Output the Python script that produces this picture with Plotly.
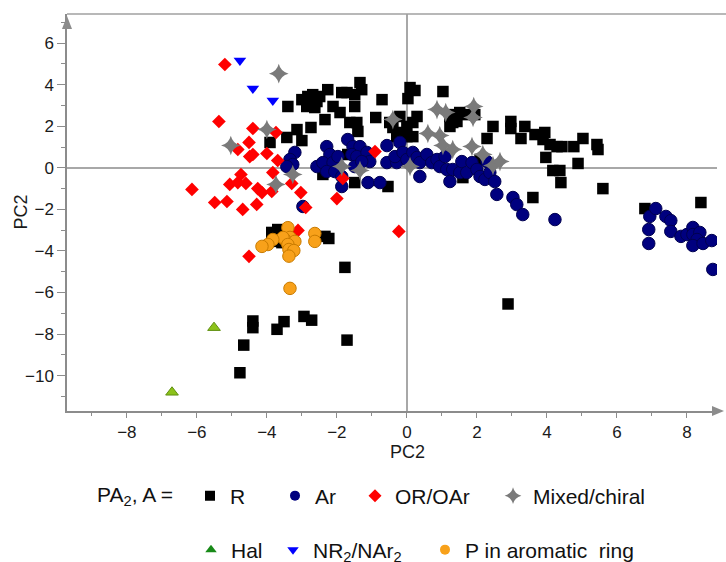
import plotly.graph_objects as go

# ---------------- data (PC1 / PC2 scores) ----------------
r_x = [-3.91, -3.43, -3.14, -3.0, -2.74, -3.4, -3.0, -2.83, -2.69, -2.57, -2.86, -2.63, -2.49, -2.26,
       -2.34, -2.11, -1.91, -1.86, -1.71, -1.49, -1.34, -1.29, -1.49, -1.63, -1.43, -1.4, -0.89, -0.71,
       -0.49, -0.2, -0.4, -0.2, 0.0, 0.17, 0.29, 0.17, 0.0, -0.29, 0.09, 0.23, 0.03, 1.03,
       1.23, 1.37, 1.51, 1.23, 1.31, 1.66, 1.94, 1.43, 2.09, 1.6,
       2.46, 2.29, 2.97, 2.97, 3.37, 3.26, 3.66, 3.94, 3.89, 4.09, 4.29, 4.43, 4.77, 5.03, 5.43, 5.46,
       3.97, 4.17, 4.37, 4.4, 4.89, 5.6, 3.6, 6.8, 8.4, 2.89,
       -1.49, -0.54, -2.4, -1.69,
       -3.86, -3.69, -3.83, -3.57, -3.63, -2.34, -2.23, -1.77,
       -4.4, -4.4, -4.66, -4.77, -3.71, -3.51, -2.94, -2.72, -1.71]
r_y = [1.22, 1.46, 1.84, 1.31, 1.94, 2.95, 3.28, 3.43, 3.52, 3.19, 2.95, 2.9, 3.43, 3.76,
       2.32, 2.95, 2.66, 3.62, 3.62, 3.52, 4.1, 3.76, 2.95, 2.18, 2.18, 1.75, 2.42, 3.28,
       2.18, 2.47, 1.94, 1.7, 1.99, 2.18, 2.47, 1.5, 1.5, 1.5, 3.86, 3.72, 3.33, 3.67,
       2.47, 2.56, 2.66, 1.99, 2.18, 2.56, 2.56, 2.23, 0.4, -0.47,
       1.99, 1.41, 2.23, 1.89, 1.99, 1.41, 1.6, 1.7, 1.36, 1.12, 1.02, 1.02, 1.02, 1.41, 1.12, 0.88,
       0.5, -0.13, -0.13, -0.71, 0.21, -1.0, -1.43, -1.96, -1.67, -6.55,
       -0.71, -0.9, -0.32, 0.64,
       -3.11, -2.97, -3.54, -3.6, -3.35, -3.3, -3.4, -4.79,
       -7.37, -7.69, -8.53, -9.86, -7.77, -7.4, -7.15, -7.33, -8.29]

ar_x = [-3.2, -3.34, -3.26, -3.43, -2.57, -2.29, -2.2, -2.4, -2.11, -1.97, -2.29, -2.06, -1.86, -1.86,
        -1.69, -1.54, -1.34, -1.57, -1.43, -1.14, -1.06, -1.49, -1.29, -1.11, -0.77, -0.57, -0.2,
        -0.57, -0.29, -0.34, -0.11, 0.0, 0.17, 0.29, 0.37, 0.57, 0.71, 0.37, 0.86, 0.94, 1.14, 1.09,
        1.23, 1.31, 1.51, 1.57, 1.71, 1.86, 2.0, 2.09, 2.23, 2.29, 2.37, 2.51, 2.57, 3.03, 3.14, 3.31,
        4.23, -2.97,
        6.94, 7.11, 6.91, 6.91, 7.4, 7.54, 7.54, 7.83, 8.0, 8.17, 8.17, 8.37, 8.29, 8.17, 8.46, 8.71, 8.74]
ar_y = [0.74, 0.4, 0.16, 0.06, 0.06, 1.02, 0.64, 0.25, 0.25, 0.54, -0.18, -0.18, -0.42, -0.9,
        1.36, 1.02, 1.02, 0.64, 0.54, 0.74, 0.3, 0.06, 0.3, -0.71, -0.71, 1.07, 1.22,
        0.25, 0.25, 0.54, 0.74, 0.4, 0.74, 0.5, 0.25, 0.64, 0.25, -0.42, 0.4, 0.06, -0.08, 0.54,
        -0.66, -0.08, -0.23, 0.3, -0.23, 0.25, -0.08, -0.42, -0.56, 0.3, -0.23, -0.66, -1.28, -1.43, -1.77, -2.25,
        -2.49, -1.86,
        -2.34, -1.96, -2.97, -3.64, -2.34, -2.54, -3.06, -3.3, -3.21, -2.87, -3.21, -3.11, -3.45, -3.74, -3.64, -3.5, -4.89]

or_x = [-5.2, -5.37, -4.4, -3.74, -4.51, -4.83, -4.49, -4.4, -4.0, -3.69, -4.74, -3.83, -5.06, -4.83,
        -4.6, -4.26, -4.14, -3.86, -3.29, -3.03, -6.14, -5.49, -5.14, -4.69, -4.29, -2.89, -2.0, -1.83,
        -0.91, -3.11, -4.51, -0.23]
or_y = [4.97, 2.23, 1.89, 1.7, 1.22, 0.88, 0.54, 0.64, 0.69, 0.35, -0.32, -0.23, -0.8, -0.71,
        -0.75, -1.0, -1.19, -1.14, -0.75, -1.19, -1.04, -1.67, -1.62, -2.0, -1.76, -1.91, -1.48, -0.51,
        0.78, -3.01, -4.26, -3.06]

mix_x = [-3.66, -4.0, -5.03, -3.26, -3.74, -1.86, -1.34, -0.4, 0.09, 0.86, 1.11, 1.91, 1.89, 0.6,
         0.94, 1.03, 1.31, 1.86, 2.17, 2.46, 2.66]
mix_y = [4.53, 1.84, 1.07, -0.32, -0.8, 0.06, -0.13, 2.32, 0.06, 2.8, 2.66, 2.95, 2.42, 1.65,
         1.55, 1.07, 0.88, 1.02, 0.64, 0.11, 0.3]

hal_x = [-5.51, -6.71]
hal_y = [-7.69, -10.8]

nr_x = [-4.77, -4.4, -3.83]
nr_y = [5.16, 3.81, 3.24]

p_x = [-3.4, -3.34, -3.49, -3.2, -3.54, -3.4, -3.83, -3.97, -4.14, -3.37, -3.23, -3.37, -2.63, -2.63, -3.34]
p_y = [-2.88, -3.35, -3.45, -3.54, -3.35, -3.69, -3.45, -3.69, -3.78, -3.93, -3.98, -4.25, -3.16, -3.54, -5.8]

x_ticks = [-8, -6, -4, -2, 0, 2, 4, 6, 8]
y_ticks = [-10, -8, -6, -4, -2, 0, 2, 4, 6]

FONT = "Liberation Sans, Arial, sans-serif"

series = [
    # name, xs, ys, symbol, size, fill, line color, line width, legend color, legend id
    ("R", r_x, r_y, "square", 11.5, "#000000", "#000000", 0, "#000000", "legend"),
    ("Ar", ar_x, ar_y, "circle", 12.5, "#00007f", "#000050", 1, "#00007f", "legend2"),
    ("OR/OAr", or_x, or_y, "diamond", 10.5, "#ff0000", "#ff0000", 0, "#ff0000", "legend3"),
    ("Mixed/chiral", mix_x, mix_y, "star-diamond", 14, "#7a7a7a", "#7a7a7a", 0, "#7a7a7a", "legend4"),
    ("Hal", hal_x, hal_y, "triangle-up", 11, "#8cc21a", "#5f8f10", 1, "#188a18", "legend5"),
    ("NR<sub>2</sub>/NAr<sub>2</sub>", nr_x, nr_y, "triangle-down", 11, "#0000ff", "#0000ff", 0, "#0000ff", "legend6"),
    ("P in aromatic  ring", p_x, p_y, "circle", 12.5, "#f8a11a", "#c97b00", 1, "#f8a11a", "legend7"),
]

fig = go.Figure()
for name, xs, ys, sym, size, fill, lc, lw, legc, lg in series:
    fig.add_trace(go.Scatter(
        x=xs, y=ys, mode="markers", showlegend=False, hoverinfo="skip",
        marker=dict(symbol=sym, size=size, color=fill, line=dict(color=lc, width=lw)),
    ))
# legend entries (small markers like the reference)
for name, xs, ys, sym, size, fill, lc, lw, legc, lg in series:
    fig.add_trace(go.Scatter(
        x=[None], y=[None], mode="markers", name=name, legend=lg,
        marker=dict(symbol=sym, size=10 if sym != "star-diamond" else 12, color=legc,
                    line=dict(width=0)),
    ))

W, H = 726, 562
# legend positions (container px): (left, center y)
leg_pos = {
    "legend": (190, 496), "legend2": (275, 496), "legend3": (355, 496), "legend4": (493, 496),
    "legend5": (191, 550), "legend6": (273, 550), "legend7": (425, 550),
}
leg_layout = {}
for lg, (lx, ly) in leg_pos.items():
    leg_layout[lg] = dict(
        x=lx / W, y=1 - ly / H, xref="container", yref="container",
        xanchor="left", yanchor="middle", orientation="h",
        font=dict(family=FONT, size=21, color="#111111"),
        bgcolor="rgba(0,0,0,0)", borderwidth=0, itemclick=False,
    )

AX = "#8c8c8c"
fig.update_layout(
    width=W, height=H,
    margin=dict(l=67, r=9, t=14, b=151),
    plot_bgcolor="white", paper_bgcolor="white",
    font=dict(family=FONT, size=16, color="#1a1a1a"),
    showlegend=True,
    **leg_layout,
    xaxis=dict(
        range=[-9.71, 8.86], tickvals=x_ticks, ticks="outside", ticklen=5, tickwidth=1,
        tickcolor=AX, showline=True, linecolor=AX, linewidth=1.5, showgrid=False,
        zeroline=True, zerolinecolor="#a8a8a8", zerolinewidth=1.5,
        minor=dict(dtick=1, tick0=0, ticks="outside", ticklen=3, tickcolor=AX, showgrid=False),
        tickfont=dict(size=17, color="#1a1a1a"),
    ),
    yaxis=dict(
        range=[-11.7, 7.4], tickvals=y_ticks, ticks="outside", ticklen=8, tickwidth=1,
        tickcolor=AX, showline=True, linecolor=AX, linewidth=1.5, showgrid=False,
        zeroline=True, zerolinecolor="#a8a8a8", zerolinewidth=1.5,
        minor=dict(dtick=1, tick0=0, ticks="outside", ticklen=4, tickcolor=AX, showgrid=False),
        tickfont=dict(size=17, color="#1a1a1a"),
    ),
)

# axis titles and the legend caption
fig.add_annotation(text="PC2", xref="paper", yref="paper", x=(407 - 67) / 650, y=(411 - 452) / 397,
                   showarrow=False, xanchor="center", yanchor="middle",
                   font=dict(family=FONT, size=18, color="#1a1a1a"))
fig.add_annotation(text="PC2", xref="paper", yref="paper", x=(20 - 67) / 650, y=0.5,
                   showarrow=False, textangle=-90, xanchor="center", yanchor="middle",
                   font=dict(family=FONT, size=18, color="#1a1a1a"))
fig.add_annotation(text="PA<sub>2</sub>, A =", xref="paper", yref="paper",
                   x=(95 - 67) / 650, y=(411 - 496) / 397, showarrow=False,
                   xanchor="left", yanchor="middle",
                   font=dict(family=FONT, size=21, color="#111111"))

# top frame line and axis arrows
fig.add_shape(type="line", xref="paper", yref="paper", x0=0, x1=(726 - 67) / 650, y0=1, y1=1,
              line=dict(color="#a0a0a0", width=1.5))
ph, pw = 397.0, 650.0
fig.add_shape(type="path", xref="paper", yref="paper",
              path=f"M {-5/pw} {1-15/ph} L {5/pw} {1-15/ph} L 0 {1-2/ph} Z",
              fillcolor=AX, line=dict(color=AX, width=0))
fig.add_shape(type="path", xref="paper", yref="paper",
              path=f"M {1+(711-716)/pw} {5/ph} L {1+(711-716)/pw} {-5/ph} L {1+(723-716)/pw} 0 Z",
              fillcolor=AX, line=dict(color=AX, width=0))

fig.write_html("out.html")
